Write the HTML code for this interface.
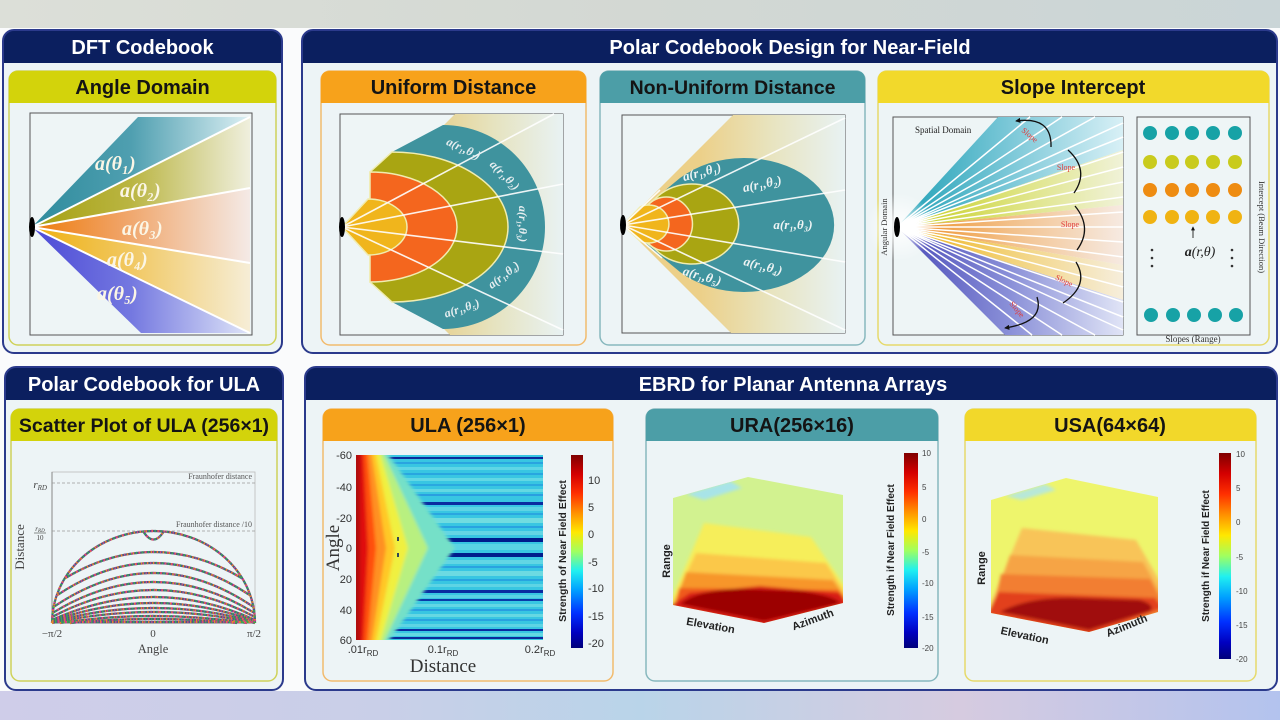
<!DOCTYPE html>
<html><head><meta charset="utf-8"><style>
html,body{margin:0;padding:0;background:#fafbfc;width:1280px;height:720px;overflow:hidden}
svg{display:block}
.hd{font:bold 20px 'Liberation Sans',Arial,sans-serif;fill:#fff;text-anchor:middle}
.sh{font:bold 20px 'Liberation Sans',Arial,sans-serif;fill:#141414;text-anchor:middle}
.m{font-family:'Liberation Serif','DejaVu Serif',serif;font-style:italic;font-weight:bold}
.sr{font-family:'Liberation Serif','DejaVu Serif',serif}
.ss{font-family:'Liberation Sans',Arial,sans-serif}
</style></head><body>
<svg width="1280" height="720" viewBox="0 0 1280 720" xmlns="http://www.w3.org/2000/svg" font-family="'Liberation Sans',Arial,sans-serif">
<defs>
<linearGradient id="gTop" x1="0" x2="1" y1="0" y2="0"><stop offset="0" stop-color="#dcdfd8"/><stop offset=".5" stop-color="#d3d8d3"/><stop offset="1" stop-color="#cad5d7"/></linearGradient>
<linearGradient id="gBot" x1="0" x2="1" y1="0" y2="0"><stop offset="0" stop-color="#cfcde9"/><stop offset=".3" stop-color="#c9cfe8"/><stop offset=".5" stop-color="#b9d4e9"/><stop offset=".75" stop-color="#d6cbe0"/><stop offset="1" stop-color="#b3c3ee"/></linearGradient>
<linearGradient id="gT1" gradientUnits="userSpaceOnUse" x1="32" x2="252" y1="0" y2="0"><stop offset="0" stop-color="#2e8b9d"/><stop offset=".45" stop-color="#4f9fb0"/><stop offset="1" stop-color="#dff1f5"/></linearGradient>
<linearGradient id="gT2" gradientUnits="userSpaceOnUse" x1="32" x2="252" y1="0" y2="0"><stop offset="0" stop-color="#a5a010"/><stop offset=".45" stop-color="#bab542"/><stop offset="1" stop-color="#f0f0e0"/></linearGradient>
<linearGradient id="gT3" gradientUnits="userSpaceOnUse" x1="32" x2="252" y1="0" y2="0"><stop offset="0" stop-color="#ee7c0c"/><stop offset=".4" stop-color="#f0a264"/><stop offset="1" stop-color="#f4ebe8"/></linearGradient>
<linearGradient id="gT4" gradientUnits="userSpaceOnUse" x1="32" x2="252" y1="0" y2="0"><stop offset="0" stop-color="#efb010"/><stop offset=".45" stop-color="#f1c862"/><stop offset="1" stop-color="#f6eed8"/></linearGradient>
<linearGradient id="gT5" gradientUnits="userSpaceOnUse" x1="32" x2="252" y1="0" y2="0"><stop offset="0" stop-color="#4c4ad6"/><stop offset=".45" stop-color="#7478e0"/><stop offset="1" stop-color="#e0e6f8"/></linearGradient>
<linearGradient id="gU" gradientUnits="userSpaceOnUse" x1="430" x2="563" y1="0" y2="0"><stop offset="0" stop-color="#e6cf8c"/><stop offset=".45" stop-color="#e6e2bc"/><stop offset="1" stop-color="#e8f2f3"/></linearGradient>
<linearGradient id="gN" gradientUnits="userSpaceOnUse" x1="700" x2="845" y1="0" y2="0"><stop offset="0" stop-color="#ecd089"/><stop offset=".5" stop-color="#e8e4c0"/><stop offset="1" stop-color="#e8f2f3"/></linearGradient>
<linearGradient id="gS1" gradientUnits="userSpaceOnUse" x1="897" x2="1123" y1="0" y2="0"><stop offset="0" stop-color="#1fa0b6"/><stop offset=".5" stop-color="#7cc8d8"/><stop offset="1" stop-color="#d8f0f6"/></linearGradient>
<linearGradient id="gS2" gradientUnits="userSpaceOnUse" x1="897" x2="1123" y1="0" y2="0"><stop offset="0" stop-color="#c4cc18"/><stop offset=".5" stop-color="#dce27a"/><stop offset="1" stop-color="#f0f2d8"/></linearGradient>
<linearGradient id="gS3" gradientUnits="userSpaceOnUse" x1="897" x2="1123" y1="0" y2="0"><stop offset="0" stop-color="#ee8a1a"/><stop offset=".5" stop-color="#f2c08a"/><stop offset="1" stop-color="#f6eae2"/></linearGradient>
<linearGradient id="gS4" gradientUnits="userSpaceOnUse" x1="897" x2="1123" y1="0" y2="0"><stop offset="0" stop-color="#efb012"/><stop offset=".5" stop-color="#f2d27a"/><stop offset="1" stop-color="#f6eedc"/></linearGradient>
<linearGradient id="gS5" gradientUnits="userSpaceOnUse" x1="897" x2="1123" y1="0" y2="0"><stop offset="0" stop-color="#4a4ab8"/><stop offset=".5" stop-color="#8a90d8"/><stop offset="1" stop-color="#e0e4f6"/></linearGradient>
<radialGradient id="glow" cx=".5" cy=".5" r=".5"><stop offset="0" stop-color="#fff" stop-opacity="1"/><stop offset="1" stop-color="#fff" stop-opacity="0"/></radialGradient>
<linearGradient id="jet" x1="0" y1="0" x2="0" y2="1"><stop offset="0" stop-color="#7f0000"/><stop offset=".1" stop-color="#d40000"/><stop offset=".2" stop-color="#ff3000"/><stop offset=".3" stop-color="#ff9000"/><stop offset=".4" stop-color="#ffe800"/><stop offset=".5" stop-color="#a0ff60"/><stop offset=".6" stop-color="#20f0f0"/><stop offset=".7" stop-color="#00a0ff"/><stop offset=".82" stop-color="#0030ff"/><stop offset=".92" stop-color="#0000c0"/><stop offset="1" stop-color="#00007a"/></linearGradient>
<filter id="bl" x="-5%" y="-5%" width="110%" height="110%"><feGaussianBlur stdDeviation="1.6"/></filter>
<clipPath id="cpHeat"><rect x="356" y="455" width="187" height="185"/></clipPath>
<clipPath id="cpURA"><polygon points="673,498 748,477 843,495 843,603 764,623 673,605"/></clipPath>
<clipPath id="cpUSA"><polygon points="991,500 1066,478 1158,497 1158,612 1089,632 991,613"/></clipPath>
<marker id="ah" viewBox="0 0 6 6" refX="5" refY="3" markerWidth="4" markerHeight="4" orient="auto"><path d="M0,0 L6,3 L0,6 Z" fill="#111"/></marker>
</defs>

<!-- page bands -->
<rect x="0" y="0" width="1280" height="720" fill="#fafbfc"/>
<rect x="0" y="0" width="1280" height="28" fill="url(#gTop)"/>
<rect x="0" y="691" width="1280" height="29" fill="url(#gBot)"/>

<!-- ===== Outer panels ===== -->
<rect x="3" y="30" width="279" height="323" rx="11" fill="#edf4f6"/>
<path d="M3,63 V41 Q3,30 14,30 H271 Q282,30 282,41 V63 Z" fill="#0b1f5f"/>
<rect x="3" y="30" width="279" height="323" rx="11" fill="none" stroke="#2b3a8c" stroke-width="2"/>
<text class="hd" x="142.5" y="54">DFT Codebook</text>

<rect x="302" y="30" width="975" height="323" rx="11" fill="#edf4f6"/>
<path d="M302,63 V41 Q302,30 313,30 H1266 Q1277,30 1277,41 V63 Z" fill="#0b1f5f"/>
<rect x="302" y="30" width="975" height="323" rx="11" fill="none" stroke="#2b3a8c" stroke-width="2"/>
<text class="hd" x="790" y="54">Polar Codebook Design for Near-Field</text>

<rect x="5" y="367" width="278" height="323" rx="11" fill="#edf4f6"/>
<path d="M5,400 V378 Q5,367 16,367 H272 Q283,367 283,378 V400 Z" fill="#0b1f5f"/>
<rect x="5" y="367" width="278" height="323" rx="11" fill="none" stroke="#2b3a8c" stroke-width="2"/>
<text class="hd" x="144" y="391">Polar Codebook for ULA</text>

<rect x="305" y="367" width="972" height="323" rx="11" fill="#edf4f6"/>
<path d="M305,400 V378 Q305,367 316,367 H1266 Q1277,367 1277,378 V400 Z" fill="#0b1f5f"/>
<rect x="305" y="367" width="972" height="323" rx="11" fill="none" stroke="#2b3a8c" stroke-width="2"/>
<text class="hd" x="793" y="391">EBRD for Planar Antenna Arrays</text>

<!-- ===== Sub panels ===== -->
<rect x="9" y="71" width="267" height="274" rx="9" fill="#edf4f6" stroke="#cfd25a" stroke-width="1.5"/>
<path d="M9,103 V80 Q9,71 18,71 H267 Q276,71 276,80 V103 Z" fill="#d3d30b"/>
<text class="sh" x="142.5" y="94">Angle Domain</text>

<rect x="321" y="71" width="265" height="274" rx="9" fill="#edf4f6" stroke="#f2bb6e" stroke-width="1.5"/>
<path d="M321,103 V80 Q321,71 330,71 H577 Q586,71 586,80 V103 Z" fill="#f7a21b"/>
<text class="sh" x="453.5" y="94">Uniform Distance</text>

<rect x="600" y="71" width="265" height="274" rx="9" fill="#edf4f6" stroke="#88b8be" stroke-width="1.5"/>
<path d="M600,103 V80 Q600,71 609,71 H856 Q865,71 865,80 V103 Z" fill="#4c9ea7"/>
<text class="sh" x="732.5" y="94" style="font-size:19.5px">Non-Uniform Distance</text>

<rect x="878" y="71" width="391" height="274" rx="9" fill="#edf4f6" stroke="#e6da6c" stroke-width="1.5"/>
<path d="M878,103 V80 Q878,71 887,71 H1260 Q1269,71 1269,80 V103 Z" fill="#f2d92b"/>
<text class="sh" x="1073" y="94">Slope Intercept</text>

<rect x="11" y="409" width="266" height="272" rx="9" fill="#edf4f6" stroke="#cfd25a" stroke-width="1.5"/>
<path d="M11,441 V418 Q11,409 20,409 H268 Q277,409 277,418 V441 Z" fill="#d3d30b"/>
<text class="sh" x="144" y="432" style="font-size:19.5px">Scatter Plot of ULA (256×1)</text>

<rect x="323" y="409" width="290" height="272" rx="9" fill="#edf4f6" stroke="#f2bb6e" stroke-width="1.5"/>
<path d="M323,441 V418 Q323,409 332,409 H604 Q613,409 613,418 V441 Z" fill="#f7a21b"/>
<text class="sh" x="468" y="432">ULA (256×1)</text>

<rect x="646" y="409" width="292" height="272" rx="9" fill="#edf4f6" stroke="#88b8be" stroke-width="1.5"/>
<path d="M646,441 V418 Q646,409 655,409 H929 Q938,409 938,418 V441 Z" fill="#4c9ea7"/>
<text class="sh" x="792" y="432">URA(256×16)</text>

<rect x="965" y="409" width="291" height="272" rx="9" fill="#edf4f6" stroke="#e6da6c" stroke-width="1.5"/>
<path d="M965,441 V418 Q965,409 974,409 H1247 Q1256,409 1256,418 V441 Z" fill="#f2d82a"/>
<text class="sh" x="1110" y="432">USA(64×64)</text>

<!-- ===== DFT Angle Domain plot ===== -->
<rect x="30" y="113" width="222" height="222" fill="#eef5f6" stroke="#555" stroke-width="1"/>
<polygon points="32,227 138,117 250,117" fill="url(#gT1)"/>
<polygon points="32,227 250,117 250,188" fill="url(#gT2)"/>
<polygon points="32,227 250,188 250,263" fill="url(#gT3)"/>
<polygon points="32,227 250,263 250,333" fill="url(#gT4)"/>
<polygon points="32,227 250,333 141,333" fill="url(#gT5)"/>
<g stroke="#fff" stroke-width="2">
<line x1="32" y1="227" x2="250" y2="117"/><line x1="32" y1="227" x2="250" y2="188"/>
<line x1="32" y1="227" x2="250" y2="263"/><line x1="32" y1="227" x2="250" y2="333"/>
</g>
<ellipse cx="32" cy="227" rx="3" ry="10" fill="#000"/>
<g class="m" font-size="20" fill="#fbf6e6">
<text x="95" y="170">a(θ₁)</text>
<text x="120" y="197">a(θ₂)</text>
<text x="122" y="235">a(θ₃)</text>
<text x="107" y="266">a(θ₄)</text>
<text x="97" y="300">a(θ₅)</text>
</g>

<!-- ===== Uniform Distance plot ===== -->
<rect x="340" y="114" width="223" height="221" fill="#eef5f6" stroke="#555" stroke-width="1"/>
<polygon points="342,227 455,114 563,114 563,335 450,335" fill="url(#gU)"/>
<path d="M342,227 L370,198 L370,172 L392,152 L443,125 A102,102 0 0 1 443,329 L392,302 L370,282 L370,256 Z" fill="#3f939e"/>
<path d="M342,227 L370,198 L370,172 L392,152 A116,75 0 0 1 392,302 L370,282 L370,256 Z" fill="#a9a512" stroke="#f0ecb0" stroke-width="1.5"/>
<path d="M342,227 L370,198 L370,172 A87,55 0 0 1 370,282 L370,256 Z" fill="#f4661e" stroke="#f0ecb0" stroke-width="1.5"/>
<path d="M342,227 L368,199 A39,28 0 0 1 368,255 Z" fill="#f0b51c" stroke="#f0ecb0" stroke-width="1.5"/>
<g stroke="#fff" stroke-width="1.6" opacity=".9">
<line x1="342" y1="227" x2="554" y2="114"/><line x1="342" y1="227" x2="563" y2="184"/>
<line x1="342" y1="227" x2="563" y2="254"/><line x1="342" y1="227" x2="563" y2="330"/>
</g>
<ellipse cx="342" cy="227" rx="3" ry="10" fill="#000"/>
<g class="m" font-size="12" fill="#e6eef0" font-weight="normal" text-anchor="middle">
<text transform="translate(462,152) rotate(25)">a(r₁,θ₁)</text>
<text transform="translate(502,178) rotate(45)">a(r₁,θ₂)</text>
<text transform="translate(519,224) rotate(90)">a(r₁,θ₃)</text>
<text transform="translate(506,278) rotate(-38)">a(r₁,θ₄)</text>
<text transform="translate(463,312) rotate(-18)">a(r₁,θ₅)</text>
</g>

<!-- ===== Non-Uniform Distance plot ===== -->
<rect x="622" y="115" width="223" height="218" fill="#eef5f6" stroke="#555" stroke-width="1"/>
<polygon points="623,225 733,115 845,115 845,333 731,333" fill="url(#gN)"/>
<path d="M623,225 L680,178 A90,67 0 1 1 680,272 Z" fill="#3f939e"/>
<path d="M623,225 L655,199 A47,40 0 1 1 655,249 Z" fill="#a9a512" stroke="#f0ecb0" stroke-width="1.5"/>
<path d="M623,225 L648,205 A26,27 0 1 1 648,243 Z" fill="#f4661e" stroke="#f0ecb0" stroke-width="1.5"/>
<path d="M623,225 L640,207 A20,19 0 1 1 640,241 Z" fill="#f0b51c" stroke="#f0ecb0" stroke-width="1.5"/>
<g stroke="#fff" stroke-width="1.6" opacity=".9">
<line x1="623" y1="225" x2="845" y2="118"/><line x1="623" y1="225" x2="845" y2="190"/>
<line x1="623" y1="225" x2="845" y2="262"/><line x1="623" y1="225" x2="845" y2="330"/>
<line x1="623" y1="225" x2="660" y2="190"/><line x1="623" y1="225" x2="662" y2="258"/>
</g>
<ellipse cx="623" cy="225" rx="3" ry="10" fill="#000"/>
<g class="m" font-size="13" fill="#eef4f4" text-anchor="middle">
<text transform="translate(703,176) rotate(-15)">a(r₁,θ₁)</text>
<text transform="translate(763,188) rotate(-12)">a(r₁,θ₂)</text>
<text transform="translate(793,229)">a(r₁,θ₃)</text>
<text transform="translate(762,270) rotate(15)">a(r₁,θ₄)</text>
<text transform="translate(701,280) rotate(16)">a(r₁,θ₅)</text>
</g>

<!-- ===== Slope Intercept ===== -->
<rect x="893" y="117" width="230" height="218" fill="#eef5f6" stroke="#555" stroke-width="1"/>
<polygon points="897,227 998,117 1123,117 1123,150" fill="url(#gS1)"/>
<polygon points="897,227 1123,150 1123,205" fill="url(#gS2)"/>
<polygon points="897,227 1123,205 1123,265" fill="url(#gS3)"/>
<polygon points="897,227 1123,265 1123,300" fill="url(#gS4)"/>
<polygon points="897,227 1123,300 1123,335 1005,335" fill="url(#gS5)"/>
<circle cx="900" cy="227" r="34" fill="url(#glow)"/>
<g stroke="#fff" stroke-width="1.5">
<line x1="897" y1="227" x2="1030" y2="117"/><line x1="897" y1="227" x2="1062" y2="117"/><line x1="897" y1="227" x2="1095" y2="117"/>
<line x1="897" y1="227" x2="1123" y2="123"/><line x1="897" y1="227" x2="1123" y2="137"/><line x1="897" y1="227" x2="1123" y2="152"/>
<line x1="897" y1="227" x2="1123" y2="167"/><line x1="897" y1="227" x2="1123" y2="182"/><line x1="897" y1="227" x2="1123" y2="197"/>
<line x1="897" y1="227" x2="1123" y2="212"/><line x1="897" y1="227" x2="1123" y2="227"/><line x1="897" y1="227" x2="1123" y2="242"/>
<line x1="897" y1="227" x2="1123" y2="257"/><line x1="897" y1="227" x2="1123" y2="272"/><line x1="897" y1="227" x2="1123" y2="287"/>
<line x1="897" y1="227" x2="1123" y2="302"/><line x1="897" y1="227" x2="1123" y2="317"/><line x1="897" y1="227" x2="1123" y2="330"/>
<line x1="897" y1="227" x2="1095" y2="335"/><line x1="897" y1="227" x2="1062" y2="335"/><line x1="897" y1="227" x2="1032" y2="335"/>
</g>
<ellipse cx="897" cy="227" rx="3" ry="10" fill="#000"/>
<g fill="none" stroke="#111" stroke-width="1.3">
<path d="M1051,147 Q1052,116 1016,121" marker-end="url(#ah)"/>
<path d="M1068,150 Q1090,170 1074,193"/>
<path d="M1075,206 Q1093,228 1077,250" />
<path d="M1076,262 Q1090,285 1063,303"/>
<path d="M1037,297 Q1045,322 1005,328" marker-end="url(#ah)"/>
</g>
<g class="sr" font-size="8" fill="#e03a3a" text-anchor="middle">
<text transform="translate(1028,137) rotate(40)">Slope</text>
<text x="1066" y="170">Slope</text>
<text x="1070" y="227">Slope</text>
<text transform="translate(1063,283) rotate(25)">Slope</text>
<text transform="translate(1015,311) rotate(50)">Slope</text>
</g>
<text class="sr" x="915" y="133" font-size="9" fill="#222">Spatial Domain</text>
<text class="sr" transform="translate(887,227) rotate(-90)" font-size="8.5" fill="#333" text-anchor="middle">Angular Domain</text>

<rect x="1137" y="117" width="113" height="218" fill="#eef5f6" stroke="#555" stroke-width="1"/>
<g fill="#17a2a6"><circle cx="1150" cy="133" r="7"/><circle cx="1172" cy="133" r="7"/><circle cx="1192" cy="133" r="7"/><circle cx="1213" cy="133" r="7"/><circle cx="1235" cy="133" r="7"/></g>
<g fill="#c9cb1d"><circle cx="1150" cy="162" r="7"/><circle cx="1172" cy="162" r="7"/><circle cx="1192" cy="162" r="7"/><circle cx="1213" cy="162" r="7"/><circle cx="1235" cy="162" r="7"/></g>
<g fill="#ee8c12"><circle cx="1150" cy="190" r="7"/><circle cx="1172" cy="190" r="7"/><circle cx="1192" cy="190" r="7"/><circle cx="1213" cy="190" r="7"/><circle cx="1235" cy="190" r="7"/></g>
<g fill="#f0b312"><circle cx="1150" cy="217" r="7"/><circle cx="1172" cy="217" r="7"/><circle cx="1192" cy="217" r="7"/><circle cx="1213" cy="217" r="7"/><circle cx="1235" cy="217" r="7"/></g>
<g fill="#17a2a6"><circle cx="1151" cy="315" r="7"/><circle cx="1173" cy="315" r="7"/><circle cx="1194" cy="315" r="7"/><circle cx="1215" cy="315" r="7"/><circle cx="1236" cy="315" r="7"/></g>
<line x1="1193" y1="238" x2="1193" y2="227" stroke="#333" stroke-width="1" marker-end="url(#ah)"/>
<text x="1200" y="256" font-size="14" text-anchor="middle" fill="#222"><tspan class="m">a</tspan><tspan class="sr" font-style="italic">(r,θ)</tspan></text>
<g fill="#333"><circle cx="1152" cy="250" r="1.3"/><circle cx="1152" cy="258" r="1.3"/><circle cx="1152" cy="266" r="1.3"/>
<circle cx="1232" cy="250" r="1.3"/><circle cx="1232" cy="258" r="1.3"/><circle cx="1232" cy="266" r="1.3"/></g>
<text class="sr" x="1193" y="342" font-size="9" fill="#333" text-anchor="middle">Slopes (Range)</text>
<text class="sr" transform="translate(1259,227) rotate(90)" font-size="8.5" fill="#333" text-anchor="middle">Intercept (Beam Direction)</text>

<!-- ===== Scatter plot ===== -->
<rect x="52" y="472" width="203" height="151" fill="none" stroke="#bbb" stroke-width=".8"/>
<line x1="52" y1="623" x2="255" y2="623" stroke="#555" stroke-width=".8"/>
<line x1="52" y1="472" x2="52" y2="623" stroke="#777" stroke-width=".8"/>
<g stroke="#999" stroke-width=".8" stroke-dasharray="3,2"><line x1="52" y1="483" x2="255" y2="483"/><line x1="52" y1="531" x2="255" y2="531"/></g>
<g class="sr" font-size="8" fill="#555" text-anchor="end"><text x="252" y="479">Fraunhofer distance</text><text x="252" y="527">Fraunhofer distance /10</text></g>
<g fill="none" stroke-width="2.2">
<g id="arcs">
<path d="M52,623 A101.5,92 0 0 1 255,623"/>
<path d="M143,531 Q153.5,548 164,531"/>
<path d="M65.5,578 Q153.5,526 241.5,578"/>
<path d="M57.5,595 Q153.5,531 249.5,595"/>
<path d="M53.5,607 Q153.5,539 253.5,607"/>
<path d="M52.5,613 Q153.5,551 254.5,613"/>
<path d="M52,617 Q153.5,563 255,617"/>
<path d="M52,620 Q153.5,574 255,620"/>
<path d="M52,621 Q153.5,585 255,621"/>
<path d="M52,622 Q153.5,594 255,622"/>
<path d="M52,623 Q153.5,601 255,623"/>
<path d="M60,623 Q153.5,609 247,623"/>
<path d="M70,623 Q153.5,615 237,623"/>
<path d="M52,622 H255"/>
</g>
</g>
<g fill="none" stroke-width="2.2" stroke="#50508a"><use href="#arcs"/></g>
<g fill="none" stroke-width="2.2" stroke="#e8842a" stroke-dasharray="1.5,4.5"><use href="#arcs"/></g>
<g fill="none" stroke-width="2.2" stroke="#3aa84e" stroke-dasharray="1.5,4.5" stroke-dashoffset="3"><use href="#arcs"/></g>
<g fill="none" stroke-width="2.2" stroke="#d83c8a" stroke-dasharray="1.2,6" stroke-dashoffset="1.5"><use href="#arcs"/></g>
<g class="sr" fill="#444">
<text x="47" y="488" font-size="11" font-style="italic" text-anchor="end">r<tspan font-size="7" dy="2">RD</tspan></text>
<text x="40" y="531" font-size="7" font-style="italic" text-anchor="middle">r<tspan font-size="5" dy="1">RD</tspan></text>
<line x1="34" y1="533" x2="46" y2="533" stroke="#444" stroke-width=".6"/>
<text x="40" y="540" font-size="7" text-anchor="middle">10</text>
<text x="52" y="637" font-size="11" text-anchor="middle">−π/2</text>
<text x="153" y="637" font-size="11" text-anchor="middle">0</text>
<text x="254" y="637" font-size="11" text-anchor="middle">π/2</text>
<text x="153" y="653" font-size="12.5" text-anchor="middle">Angle</text>
<text transform="translate(24,547) rotate(-90)" font-size="13" text-anchor="middle">Distance</text>
</g>

<!-- ===== ULA heatmap ===== -->
<rect x="356" y="455" width="187" height="185" fill="#38c6e2"/>
<g>
<rect x="356" y="457" width="187" height="2" fill="#0a2a9a"/>
<rect x="356" y="462" width="187" height="2" fill="#2aa4e0"/>
<rect x="356" y="467" width="187" height="3" fill="#5fd6e6"/>
<rect x="356" y="473" width="187" height="2" fill="#28a6e0"/>
<rect x="356" y="478" width="187" height="3" fill="#62d8e4"/>
<rect x="356" y="484" width="187" height="2" fill="#2aa8e0"/>
<rect x="356" y="489" width="187" height="3" fill="#64d8e2"/>
<rect x="356" y="494" width="187" height="2" fill="#2a9ee0"/>
<rect x="356" y="502" width="187" height="3" fill="#0a2ca0"/>
<rect x="356" y="507" width="187" height="4" fill="#5ed4e4"/>
<rect x="356" y="513" width="187" height="2" fill="#2aa6e0"/>
<rect x="356" y="518" width="187" height="5" fill="#70dce0"/>
<rect x="356" y="526" width="187" height="2" fill="#28a2e0"/>
<rect x="356" y="531" width="187" height="4" fill="#64d6e4"/>
<rect x="356" y="538" width="187" height="4" fill="#001c8c"/>
<rect x="356" y="544" width="187" height="6" fill="#5ad4e4"/>
<rect x="356" y="553" width="187" height="4" fill="#001c8c"/>
<rect x="356" y="560" width="187" height="4" fill="#62d6e4"/>
<rect x="356" y="566" width="187" height="2" fill="#2aa2e0"/>
<rect x="356" y="571" width="187" height="5" fill="#6cdae2"/>
<rect x="356" y="579" width="187" height="2" fill="#28a4e0"/>
<rect x="356" y="584" width="187" height="3" fill="#5ed4e4"/>
<rect x="356" y="590" width="187" height="3" fill="#0a2ca0"/>
<rect x="356" y="595" width="187" height="3" fill="#5ad2e4"/>
<rect x="356" y="599" width="187" height="2" fill="#0a3aa8"/>
<rect x="356" y="604" width="187" height="3" fill="#62d6e4"/>
<rect x="356" y="609" width="187" height="2" fill="#2a9ee0"/>
<rect x="356" y="614" width="187" height="3" fill="#66d8e2"/>
<rect x="356" y="619" width="187" height="2" fill="#2aa2e0"/>
<rect x="356" y="624" width="187" height="3" fill="#5ed4e4"/>
<rect x="356" y="629" width="187" height="2" fill="#0a2ca0"/>
<rect x="356" y="633" width="187" height="3" fill="#64d8e2"/>
<rect x="356" y="637" width="187" height="2" fill="#0a2a9a"/>
</g>
<g clip-path="url(#cpHeat)"><g filter="url(#bl)">
<polygon points="350,450 385,450 455,548 385,646 350,646" fill="#74e0c8"/>
<polygon points="350,450 382,450 428,548 382,646 350,646" fill="#b8f080"/>
<polygon points="350,450 379,450 408,548 379,646 350,646" fill="#f0f040"/>
<polygon points="350,450 375,450 395,548 375,646 350,646" fill="#ffc828"/>
<polygon points="350,450 371,450 386,548 371,646 350,646" fill="#ff9020"/>
<polygon points="350,450 367,450 376,548 367,646 350,646" fill="#ff5010"/>
<polygon points="350,450 363,450 368,548 363,646 350,646" fill="#e01010"/>
<rect x="350" y="450" width="10" height="196" fill="#b00808"/>
</g></g>
<rect x="397" y="537" width="2" height="4" fill="#345"/><rect x="397" y="553" width="2" height="4" fill="#345"/>
<g class="ss" font-size="11" fill="#333" text-anchor="end">
<text x="352" y="459">-60</text><text x="352" y="491">-40</text><text x="352" y="522">-20</text>
<text x="352" y="552">0</text><text x="352" y="583">20</text><text x="352" y="614">40</text><text x="352" y="644">60</text>
</g>
<g class="ss" font-size="11" fill="#333" text-anchor="middle">
<text x="363" y="653">.01r<tspan font-size="8" dy="3">RD</tspan></text>
<text x="443" y="653">0.1r<tspan font-size="8" dy="3">RD</tspan></text>
<text x="540" y="653">0.2r<tspan font-size="8" dy="3">RD</tspan></text>
</g>
<text class="sr" x="443" y="672" font-size="19" fill="#333" text-anchor="middle">Distance</text>
<text class="sr" transform="translate(339,548) rotate(-90)" font-size="19" fill="#333" text-anchor="middle">Angle</text>
<rect x="571" y="455" width="12" height="193" fill="url(#jet)"/>
<g class="ss" font-size="11" fill="#333">
<text x="588" y="484">10</text><text x="588" y="511">5</text><text x="588" y="538">0</text>
<text x="588" y="566">-5</text><text x="588" y="592">-10</text><text x="588" y="620">-15</text><text x="588" y="647">-20</text>
</g>
<text class="ss" transform="translate(566,551) rotate(-90)" font-size="10.5" font-weight="bold" fill="#222" text-anchor="middle">Strength of Near Field Effect</text>

<!-- ===== URA 3D ===== -->
<polygon points="673,498 748,477 843,495 843,603 764,623 673,605" fill="#d2f290"/>
<g clip-path="url(#cpURA)"><g filter="url(#bl)">
<polygon points="686,494 730,481 742,488 704,500" fill="#a8e4e8"/>
<polygon points="673,596 704,523 811,537 846,588 846,610 764,626 670,610" fill="#f6ee5a"/>
<polygon points="674,600 696,553 826,563 846,594 846,610 764,626 670,610" fill="#fbc84a"/>
<polygon points="675,602 686,572 833,580 846,598 846,610 764,626 670,610" fill="#f7962a"/>
<polygon points="676,603 679,588 838,590 846,601 846,610 764,626 670,610" fill="#f05a1c"/>
<polygon points="670,606 690,593 760,586 840,593 846,604 764,626" fill="#d81e12"/>
<path d="M680,604 Q700,589 740,589 L800,591 Q835,596 840,603 L764,621 Z" fill="#9c0606"/>
</g></g>
<g class="ss" font-size="11" font-weight="bold" fill="#222" text-anchor="middle">
<text transform="translate(670,561) rotate(-90)">Range</text>
<text transform="translate(710,629) rotate(10)">Elevation</text>
<text transform="translate(814,623) rotate(-20)">Azimuth</text>
</g>
<rect x="904" y="453" width="14" height="195" fill="url(#jet)"/>
<g class="ss" font-size="8" fill="#444">
<text x="922" y="456">10</text><text x="922" y="490">5</text><text x="922" y="522">0</text>
<text x="922" y="555">-5</text><text x="922" y="586">-10</text><text x="922" y="620">-15</text><text x="922" y="651">-20</text>
</g>
<text class="ss" transform="translate(894,550) rotate(-90)" font-size="10" font-weight="bold" fill="#222" text-anchor="middle">Strength if Near Field Effect</text>

<!-- ===== USA 3D ===== -->
<polygon points="991,500 1066,478 1158,497 1158,612 1089,632 991,613" fill="#eef56c"/>
<g clip-path="url(#cpUSA)"><g filter="url(#bl)">
<polygon points="1005,496 1045,484 1056,490 1022,500" fill="#b8e8d8"/>
<polygon points="992,600 1022,528 1136,540 1162,585 1162,616 1089,636 988,618" fill="#f8c458"/>
<polygon points="993,605 1010,555 1143,562 1162,596 1162,616 1089,636 988,618" fill="#f6a444"/>
<polygon points="994,608 1001,574 1150,579 1162,603 1162,616 1089,636 988,618" fill="#f27e30"/>
<polygon points="988,614 998,592 1155,598 1162,608 1089,636" fill="#e2401a"/>
<path d="M1000,612 Q1030,596 1080,598 L1140,600 Q1156,605 1150,611 L1089,630 Z" fill="#a00808"/>
</g></g>
<g class="ss" font-size="11" font-weight="bold" fill="#222" text-anchor="middle">
<text transform="translate(985,568) rotate(-90)">Range</text>
<text transform="translate(1024,639) rotate(12)">Elevation</text>
<text transform="translate(1128,629) rotate(-22)">Azimuth</text>
</g>
<rect x="1219" y="453" width="12" height="206" fill="url(#jet)"/>
<g class="ss" font-size="8" fill="#444">
<text x="1236" y="457">10</text><text x="1236" y="491">5</text><text x="1236" y="525">0</text>
<text x="1236" y="560">-5</text><text x="1236" y="594">-10</text><text x="1236" y="628">-15</text><text x="1236" y="662">-20</text>
</g>
<text class="ss" transform="translate(1209,556) rotate(-90)" font-size="10" font-weight="bold" fill="#222" text-anchor="middle">Strength if Near Field Effect</text>
</svg>
</body></html>
